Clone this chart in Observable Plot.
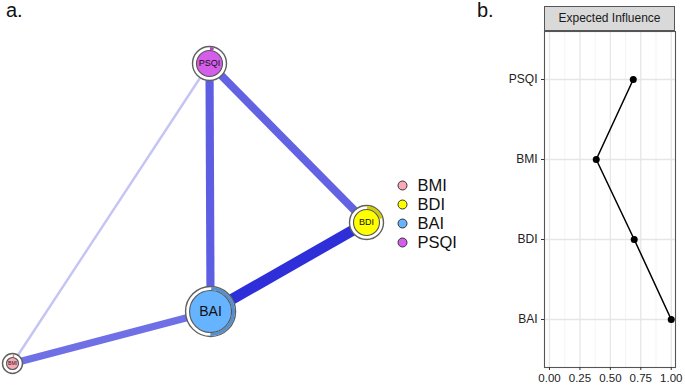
<!DOCTYPE html>
<html><head><meta charset="utf-8">
<script src="https://cdn.jsdelivr.net/npm/d3@7"></script>
<script src="https://cdn.jsdelivr.net/npm/@observablehq/plot@0.6"></script>
<style>
body{margin:0;background:#fff;font-family:"Liberation Sans",Arial,sans-serif}
#wrap{position:relative;width:685px;height:386px;overflow:hidden;background:#fff}
.abs{position:absolute}
.ttl{font-size:20px;line-height:20px;color:#111}
#strip{left:544px;top:6px;width:131px;height:25px;box-sizing:border-box;background:#d9d9d9;border:1px solid #555;
  font-size:12px;line-height:23px;text-align:center;color:#1a1a1a}
</style></head><body><div id="wrap"></div>
<script>
// ---- network data ----
const nodeNames = ["BMI", "BDI", "BAI", "PSQI"];
const nodeLayoutX = [-1, 1, 0.119, 0.113];
const nodeLayoutY = [-1, -0.06, -0.653, 1];
const predictability = [0.03, 0.2, 0.5, 0.04];

const edgeFrom = ["BDI", "PSQI", "PSQI", "BAI", "PSQI"];
const edgeTo = ["BAI", "BAI", "BDI", "BMI", "BMI"];
const edgeWeight = [0.45, 0.34, 0.33, 0.30, 0.10];

// ---- centrality data ----
const eiNodes = ["PSQI", "BMI", "BDI", "BAI"];
const eiValues = [0.688, 0.384, 0.696, 1.0];
const eiTicks = [0, 0.25, 0.5, 0.75, 1];
const eiMinorTicks = [0.125, 0.375, 0.625, 0.875];

// ---- styles ----
const nodeColors = ["#F9A8B4", "#FFFF00", "#66B3FF", "#D45EEA"];
const nodeRadius = [10, 17, 25, 17];
const nodeFont = [5, 9, 14, 9];
const FONT = '"Liberation Sans", Arial, sans-serif';

const wrap = document.getElementById("wrap");
function place(el, left, top) { el.classList.add("abs"); el.style.left = left + "px"; el.style.top = top + "px"; wrap.appendChild(el); }

// ---- panel a: network ----
const nodes = nodeNames.map((n, i) => ({name: n, x: nodeLayoutX[i], y: nodeLayoutY[i], p: predictability[i]}));
const byName = Object.fromEntries(nodes.map(d => [d.name, d]));
const edges = edgeFrom.map((f, i) => ({a: byName[f], b: byName[edgeTo[i]], w: edgeWeight[i]}));

const nodeMarks = nodes.flatMap((d, i) => {
  const R = nodeRadius[i], col = nodeColors[i];
  const ringR = R - 2, C = 2 * Math.PI * ringR, a = C * d.p;
  return [
    Plot.dot([d], {x: "x", y: "y", r: R, fill: "white", stroke: "#5f5f5f", strokeWidth: 1.4}),
    Plot.dot([d], {x: "x", y: "y", r: ringR, fill: "none", stroke: d3.color(col).darker(0.6).formatHex(),
      strokeWidth: 3, strokeDasharray: `${a} ${C - a}`, strokeDashoffset: C * 0.25}),
    Plot.dot([d], {x: "x", y: "y", r: R - 4, fill: col, stroke: "#555", strokeWidth: 1.1}),
    Plot.text([d], {x: "x", y: "y", text: "name", fontSize: nodeFont[i], fill: "#111"})
  ];
});

const net = Plot.plot({
  width: 480, height: 386, margin: 0,
  style: {fontFamily: FONT, background: "transparent", overflow: "visible"},
  x: {domain: [-1, 1], range: [12, 366], axis: null},
  y: {domain: [-1, 1], range: [363, 63], axis: null},
  color: {type: "linear", domain: [0, 0.5], range: ["#eeeefd", "#1a1ad6"]},
  marks: [
    Plot.link(edges, {x1: d => d.a.x, y1: d => d.a.y, x2: d => d.b.x, y2: d => d.b.y,
      stroke: "w", strokeWidth: d => d.w * 24, strokeLinecap: "butt"}),
    ...nodeMarks
  ]
});
place(net, 0, 0);

// legend
const legend = Plot.plot({
  width: 80, height: 84, margin: 0,
  style: {fontFamily: FONT, background: "transparent", overflow: "visible"},
  y: {type: "point", domain: nodeNames, range: [14, 73], padding: 0, axis: null},
  color: {type: "ordinal", domain: nodeNames, range: nodeColors},
  marks: [
    Plot.dot(nodeNames, {y: d => d, fill: d => d, frameAnchor: "left", dx: 12, r: 4.5, stroke: "#333", strokeWidth: 1}),
    Plot.text(nodeNames, {y: d => d, text: d => d, frameAnchor: "left", dx: 27, textAnchor: "start", fontSize: 16.5, fill: "#111"})
  ]
});
place(legend, 390, 170);

// ---- panel b: expected influence ----
const ei = eiNodes.map((n, i) => ({node: n, v: eiValues[i]}));
const cent = Plot.plot({
  width: 205, height: 386, marginLeft: 64, marginRight: 10, marginTop: 31, marginBottom: 19,
  style: {fontFamily: FONT, fontSize: "11.5px", color: "#222", background: "transparent", overflow: "visible"},
  x: {domain: [-0.041, 1.035]},
  y: {type: "point", domain: eiNodes, padding: 0.6},
  marks: [
    Plot.ruleX(eiMinorTicks, {stroke: "#efefef", strokeWidth: 0.7}),
    Plot.ruleX(eiTicks, {stroke: "#e6e6e6", strokeWidth: 1.3}),
    Plot.ruleY(eiNodes, {stroke: "#e6e6e6", strokeWidth: 1.3}),
    Plot.frame({stroke: "#555", strokeWidth: 1.1}),
    Plot.line(ei, {x: "v", y: "node", stroke: "#000", strokeWidth: 1.5}),
    Plot.dot(ei, {x: "v", y: "node", fill: "#000", r: 3.5}),
    Plot.axisX({ticks: eiTicks, tickFormat: d3.format(".2f"), tickSize: 3, tickPadding: 3, label: null, fontSize: 11.5, stroke: "#333"}),
    Plot.axisY({tickSize: 3, tickPadding: 4, label: null, fontSize: 12, stroke: "#333"})
  ]
});
place(cent, 480, 0);

const strip = document.createElement("div");
strip.id = "strip"; strip.textContent = "Expected Influence";
place(strip, 544, 6);

const ta = document.createElement("div"); ta.className = "ttl"; ta.textContent = "a."; place(ta, 6, 0);
const tb = document.createElement("div"); tb.className = "ttl"; tb.textContent = "b."; place(tb, 477, 0);
</script>
</body></html>
